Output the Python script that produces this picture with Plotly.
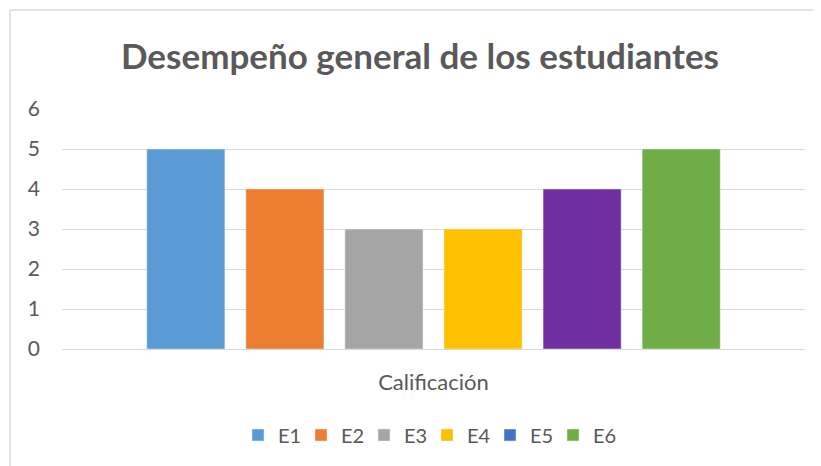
import plotly.graph_objects as go

categories = ["Calificación"]
students = ["E1", "E2", "E3", "E4", "E5", "E6"]
scores = [5, 4, 3, 3, 4, 5]
bar_colors = ["#5B9BD5", "#ED7D31", "#A5A5A5", "#FFC000", "#7030A0", "#70AD47"]
legend_colors = ["#5B9BD5", "#ED7D31", "#A5A5A5", "#FFC000", "#4472C4", "#70AD47"]
y_ticks = [0, 1, 2, 3, 4, 5, 6]

FONT = "Lato"
TXT = "#595959"

fig = go.Figure()
for i, (name, val) in enumerate(zip(students, scores)):
    if bar_colors[i] != legend_colors[i]:
        fig.add_trace(go.Bar(x=categories, y=[None], name=name, offsetgroup=str(i),
                             marker_color=legend_colors[i], hoverinfo="skip"))
        fig.add_trace(go.Bar(x=categories, y=[val], name=name, offsetgroup=str(i),
                             marker_color=bar_colors[i], showlegend=False))
    else:
        fig.add_trace(go.Bar(x=categories, y=[val], name=name, offsetgroup=str(i),
                             marker_color=bar_colors[i]))

# page body has an 8px margin; work in screen pixels and shift
OFF = 8
W, H = 821 - OFF, 466 - OFF
L, T = 62 - OFF, 109 - OFF
R = W - (805 - OFF)
B = H - (349 - OFF)
pw, ph = W - L - R, H - T - B

def px(x):
    return (x - OFF - L) / pw

def py(y):
    return (H - B - (y - OFF)) / ph

border = dict(color="#D9D9D9", width=1.5)

fig.update_layout(
    width=W, height=H,
    margin=dict(l=L, r=R, t=T, b=B),
    paper_bgcolor="white", plot_bgcolor="white",
    barmode="group", bargap=0.2, bargroupgap=0.212,
    title=dict(text="<b>Desempeño general de los estudiantes</b>",
               x=(420 - OFF) / W, xref="container", xanchor="center",
               y=1 - (57 - OFF) / H, yanchor="middle",
               font=dict(family=FONT, size=35, color=TXT)),
    font=dict(family=FONT, color=TXT),
    xaxis=dict(showgrid=False, showline=False, zeroline=False, ticks="",
               tickfont=dict(size=22, color=TXT), ticklabelstandoff=18),
    yaxis=dict(range=[0, 6], tickvals=y_ticks, showgrid=True, gridcolor="#D9D9D9",
               gridwidth=1, zeroline=True, zerolinecolor="#D9D9D9", zerolinewidth=1,
               showline=False, ticks="", tickfont=dict(size=21, color=TXT),
               ticklabelstandoff=21),
    legend=dict(orientation="h", x=px(427), xanchor="center", y=py(435), yanchor="middle",
                font=dict(size=20, color=TXT), traceorder="normal",
                itemwidth=30, entrywidth=18, tracegroupgap=0),
    shapes=[
        dict(type="line", xref="paper", yref="paper",
             x0=px(10), y0=py(10), x1=px(830), y1=py(10), line=border, layer="below"),
        dict(type="line", xref="paper", yref="paper",
             x0=px(10), y0=py(10), x1=px(10), y1=py(480), line=border, layer="below"),
    ],
    showlegend=True,
)

fig.write_html("out.html")
